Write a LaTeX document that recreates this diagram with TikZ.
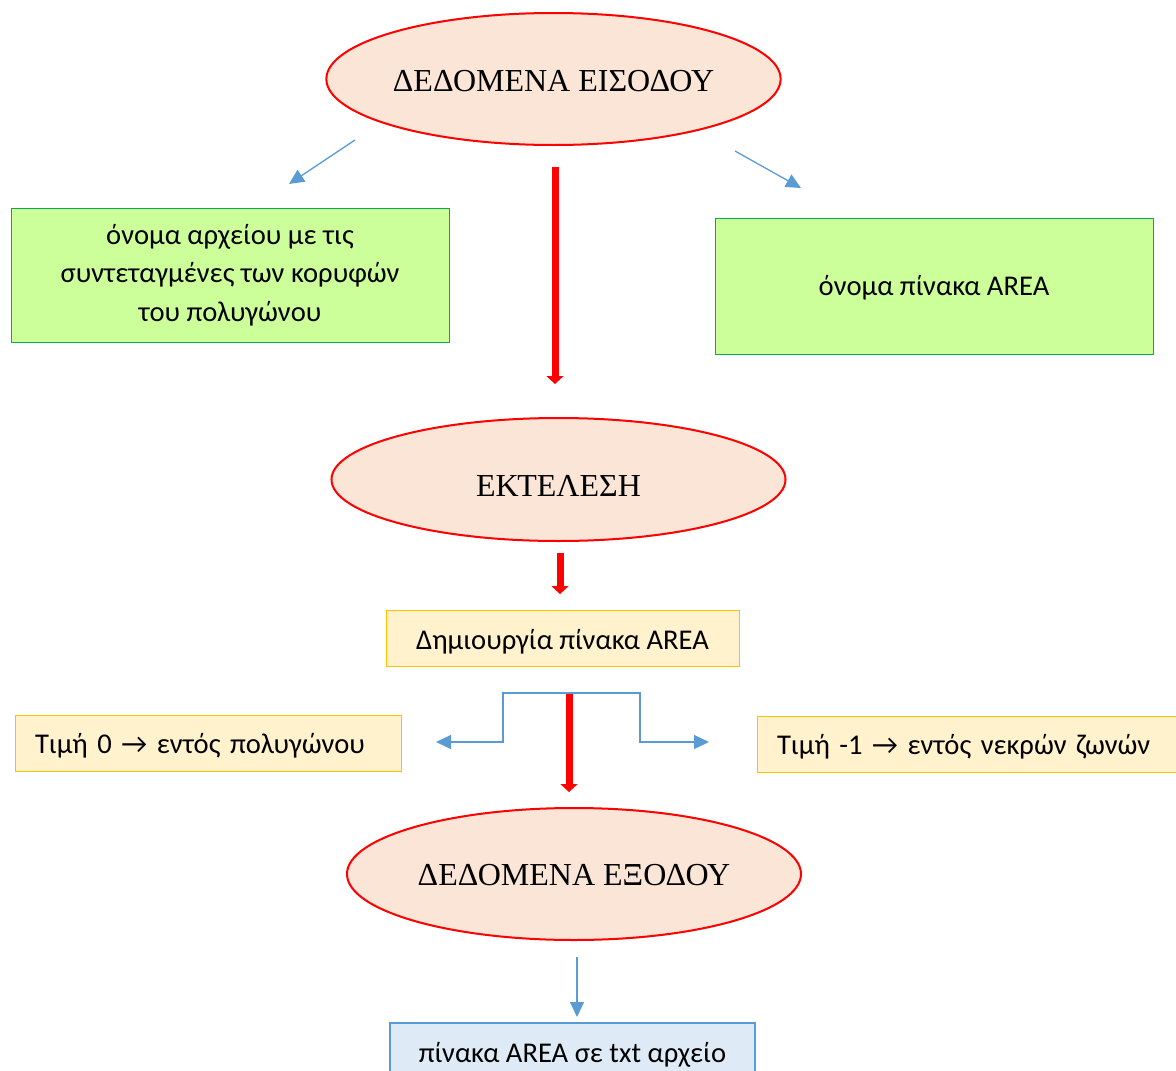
\documentclass[tikz,border=0pt]{standalone}
\usepackage{fontspec}
\setmainfont{Liberation Serif}
\newfontfamily\calfont{Carlito}
\usetikzlibrary{shapes.geometric,arrows.meta}
\newcommand\lowtext[2]{\raisebox{0pt}[\dimexpr\height+#1*2\relax][\depth]{#2}}
\definecolor{ellfill}{HTML}{FBE5D6}
\definecolor{ellline}{HTML}{FF0000}
\definecolor{grnfill}{HTML}{CCFF99}
\definecolor{grnline}{HTML}{00B050}
\definecolor{ylwfill}{HTML}{FFF2CC}
\definecolor{ylwline}{HTML}{FFC000}
\definecolor{blufill}{HTML}{DEEBF7}
\definecolor{bluline}{HTML}{5B9BD5}
\tikzset{
  ell/.style={ellipse, draw=ellline, fill=ellfill, line width=2pt, minimum width=454pt, minimum height=132pt, inner sep=0pt, font=\fontsize{32}{38}\selectfont},
  grnbox/.style={rectangle, draw=grnline, fill=grnfill, line width=1pt, minimum width=438pt, minimum height=134pt, inner sep=0pt, align=center, font=\calfont\fontsize{28.6}{38.5}\selectfont},
  ylwbox/.style={rectangle, draw=ylwline, fill=ylwfill, line width=1pt, minimum height=56pt, inner ysep=0pt, font=\calfont\fontsize{28.6}{35}\selectfont},
  blubox/.style={rectangle, draw=bluline, fill=blufill, line width=1.2pt, minimum height=60pt, inner ysep=0pt, font=\calfont\fontsize{28.6}{35}\selectfont},
  bluarrow/.style={draw=bluline, line width=1.3pt, -{Triangle[length=15pt,width=14pt]}},
  redarrow/.style={draw=ellline, line width=7pt, -{Triangle[length=8pt,width=17pt]}}
}
\begin{document}
\begin{tikzpicture}[x=1pt,y=-1pt]
\useasboundingbox (0,0) rectangle (1176,1071);
\clip (0,0) rectangle (1176,1071);

\node[ell] (in) at (553.5,79) {\lowtext{2pt}{ΔΕΔΟΜΕΝΑ ΕΙΣΟΔΟΥ}};
\node[ell, minimum height=123pt] (run) at (558.5,479.5) {\lowtext{6pt}{ΕΚΤΕΛΕΣΗ}};
\node[ell] (out) at (574,874) {\lowtext{1pt}{ΔΕΔΟΜΕΝΑ ΕΞΟΔΟΥ}};

\node[grnbox] (file) at (230,275) {όνομα αρχείου με τις\\συντεταγμένες των κορυφών\\του πολυγώνου};
\node[grnbox, minimum height=136pt] (name) at (934,286) {\lowtext{2pt}{όνομα πίνακα AREA}};

\node[ylwbox, minimum width=353pt] (make) at (562.5,638) {\lowtext{4pt}{Δημιουργία πίνακα AREA}};
\node[ylwbox, text width=346pt, inner xsep=20pt, align=left] (zero) at (208,743) {\lowtext{3pt}{Τιμή 0 → εντός πολυγώνου}};
\node[ylwbox, text width=399pt, inner xsep=20pt, align=left] (minus) at (976.5,744) {\lowtext{3pt}{Τιμή -1 → εντός νεκρών ζωνών}};

\node[blubox, minimum width=365pt] (txt) at (572.5,1053) {\lowtext{2pt}{πίνακα AREA σε txt αρχείο}};

% connector end points
\coordinate (a1s) at (355,140);
\coordinate (a1e) at (289,184);
\coordinate (a2s) at (735,151);
\coordinate (a2e) at (801,188);
\coordinate (r1s) at (555,167);
\coordinate (r1e) at (555,384);
\coordinate (r2s) at (560,553);
\coordinate (r2e) at (560,594);
\coordinate (r3s) at (569,694);
\coordinate (r3e) at (569,792);
\coordinate (tree) at (569,693);
\coordinate (tl) at (436,742);
\coordinate (tr) at (709,742);
\coordinate (bs) at (577,957);
\coordinate (be) at (577,1017);

\draw[bluarrow] (a1s) -- (a1e);
\draw[bluarrow] (a2s) -- (a2e);
\draw[bluarrow] (tree) -| (503,742) -- (tl);
\draw[bluarrow] (tree) -| (640,742) -- (tr);
\draw[bluarrow] (bs) -- (be);

\draw[redarrow] (r1s) -- (r1e);
\draw[redarrow] (r2s) -- (r2e);
\draw[redarrow] (r3s) -- (r3e);
\end{tikzpicture}
\end{document}
